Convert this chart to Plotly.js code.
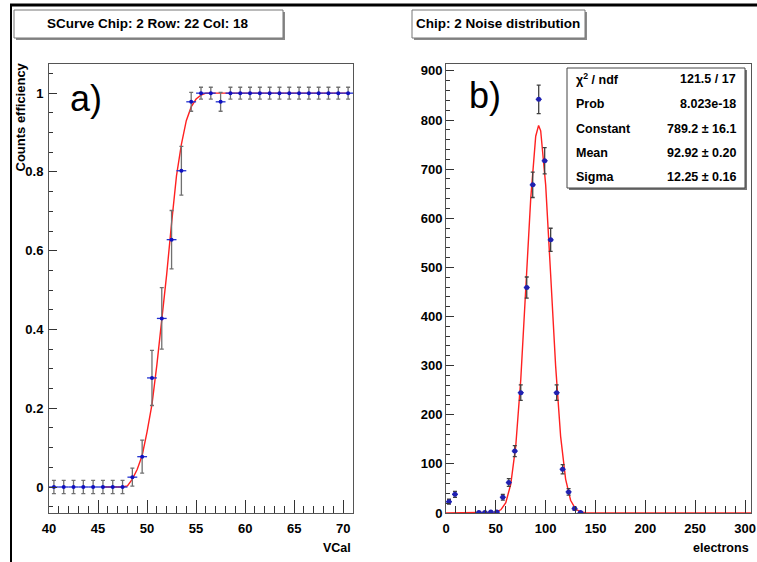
<!DOCTYPE html>
<html>
<head>
<meta charset="utf-8">
<script src="https://cdn.plot.ly/plotly-3.0.1.min.js"></script>
<style>html,body{margin:0;padding:0;background:#fff;}#chart{width:757px;height:562px;}</style>
</head>
<body>
<div id="chart"></div>
<script>
// ---- Panel a) SCurve data ----
var vcal = [40.5,41.5,42.5,43.5,44.5,45.5,46.5,47.5,48.5,49.5,50.5,51.5,52.5,53.5,54.5,55.5,56.5,57.5,58.5,59.5,60.5,61.5,62.5,63.5,64.5,65.5,66.5,67.5,68.5,69.5,70.5];
var efficiency = [0,0,0,0,0,0,0,0,0.025,0.077,0.277,0.428,0.628,0.803,0.978,1,1,0.978,1,1,1,1,1,1,1,1,1,1,1,1,1];
var effErr = [0.017,0.017,0.017,0.017,0.017,0.017,0.017,0.017,0.023,0.042,0.07,0.078,0.074,0.062,0.024,0.015,0.015,0.024,0.015,0.015,0.015,0.015,0.015,0.015,0.015,0.015,0.015,0.015,0.015,0.015,0.015];
var fitVcal = [45.5,47.5,48,48.5,49,49.5,50,50.5,51,51.5,52,52.5,53,53.5,54,54.5,55,55.5,56,57,70.5];
var fitEff  = [0,0,0.003,0.02,0.045,0.08,0.14,0.21,0.31,0.42,0.54,0.67,0.79,0.87,0.93,0.965,0.985,0.995,1,1,1];
var vcalTicks = [40,45,50,55,60,65,70];
var vcalTickText = ["40","45","50","55","60","65","70"];
var effTicks = [0,0.2,0.4,0.6,0.8,1];
var effTickText = ["0","0.2","0.4","0.6","0.8","1"];

// ---- Panel b) Noise distribution data ----
var electrons = [3,9,33,39,45,51,57,63,69,75,81,87,93,99,105,111,117,123,129,135];
var counts    = [23,38,1,1,2,2,32,62,126,245,459,668,842,717,556,245,89,43,9,1];
var countErr  = [5,6,1,1,1.4,1.4,5.7,7.9,11.2,15.7,21.4,25.8,29,26.8,23.6,15.7,9.4,6.6,3,1];
var fitElectrons = [0,45,50,55,60,65,70,75,80,85,90,92.9,95,100,105,110,115,120,125,130,135,140,150,306];
var fitCounts    = [0,0.3,1.7,6.5,21,59,137,271,452,640,767,789,778,668,485,299,156,69,26,8,2.2,0.6,0,0];
var elecTicks = [0,50,100,150,200,250,300];
var elecTickText = ["0","50","100","150","200","250","300"];
var countTicks = [0,100,200,300,400,500,600,700,800,900];
var countTickText = ["0","100","200","300","400","500","600","700","800","900"];

var statNames  = ["\u03c7<sup>2</sup> / ndf","Prob","Constant","Mean","Sigma"];
var statValues = ["121.5 / 17","8.023e-18","789.2 \u00b1 16.1","92.92 \u00b1 0.20","12.25 \u00b1 0.16"];

var W = 757, H = 562;
function px(x){ return x / W; }
function py(y){ return 1 - y / H; }
function bold(arr){ return arr.map(function(s){ return '<b>' + s + '</b>'; }); }

var FONT = "Liberation Sans, Arial, sans-serif";

var traces = [
  {x: fitVcal, y: fitEff, xaxis:'x', yaxis:'y', mode:'lines', line:{color:'#ff2020', width:1.4}, hoverinfo:'skip'},
  {x: vcal, y: efficiency, xaxis:'x', yaxis:'y', mode:'markers',
   marker:{color:'#1010c0', size:4},
   error_y:{type:'data', array: effErr, color:'#707070', thickness:1.3, width:2},
   error_x:{type:'constant', value:0.5, color:'#2030d0', thickness:1.3, width:0}},
  {x: fitElectrons, y: fitCounts, xaxis:'x2', yaxis:'y2', mode:'lines', line:{color:'#ff2020', width:1.4}, hoverinfo:'skip'},
  {x: electrons, y: counts, xaxis:'x2', yaxis:'y2', mode:'markers',
   marker:{color:'#2020b0', size:5},
   error_y:{type:'data', array: countErr, color:'#404040', thickness:1.3, width:2},
   error_x:{type:'constant', value:3, color:'#2030c0', thickness:1.3, width:0}}
];

var axisCommon = {
  showgrid:false, zeroline:false, showline:true, mirror:true, linecolor:'#555', linewidth:1,
  ticks:'inside', tickcolor:'#333', tickwidth:1, tickmode:'array',
  tickfont:{family:FONT, size:13, color:'#000'}
};
function ax(extra){ var o = {}; for (var k in axisCommon) o[k] = axisCommon[k]; for (var k2 in extra) o[k2] = extra[k2]; return o; }

function ann(x, y, text, xa, size, weight){
  return {xref:'paper', yref:'paper', x:px(x), y:py(y), xanchor:xa, yanchor:'middle', text:text, showarrow:false,
          font:{family:FONT, size:size, color:'#000', weight:(weight === undefined ? 700 : weight)}};
}

var annotations = [
  ann(148, 24, 'SCurve Chip: 2 Row: 22 Col: 18', 'center', 13.5),
  ann(498, 24, 'Chip: 2 Noise distribution', 'center', 13.5),
  ann(68, 98, 'a)', 'left', 36, 400),
  ann(467, 95, 'b)', 'left', 36, 400),
  ann(353, 548, 'VCal', 'right', 12.5),
  ann(751, 548, 'electrons', 'right', 12.5),
  {xref:'paper', yref:'paper', x:px(20), y:py(61), xanchor:'center', yanchor:'top', textangle:-90, text:'Counts efficiency', showarrow:false, font:{family:FONT, size:13, color:'#000', weight:700}}
];
var rowY = [79,104,129,153,177];
for (var i = 0; i < statNames.length; i++) {
  annotations.push(ann(574, rowY[i], statNames[i], 'left', 12.5));
  annotations.push(ann(738, rowY[i], statValues[i], 'right', 12.5));
}

var shapes = [
  // canvas border
  {type:'line', xref:'paper', yref:'paper', x0:px(10), x1:1, y0:py(5), y1:py(5), line:{color:'#000', width:3}},
  {type:'line', xref:'paper', yref:'paper', x0:px(11), x1:px(11), y0:py(4), y1:0, line:{color:'#000', width:2}},
  // title boxes with shadows
  {type:'rect', xref:'paper', yref:'paper', x0:px(16), x1:px(285), y0:py(40), y1:py(12), fillcolor:'#8a8a8a', line:{width:0}},
  {type:'rect', xref:'paper', yref:'paper', x0:px(14), x1:px(283), y0:py(38), y1:py(10), fillcolor:'#fff', line:{color:'#777', width:1}},
  {type:'rect', xref:'paper', yref:'paper', x0:px(414), x1:px(587), y0:py(40), y1:py(12), fillcolor:'#8a8a8a', line:{width:0}},
  {type:'rect', xref:'paper', yref:'paper', x0:px(412), x1:px(585), y0:py(38), y1:py(10), fillcolor:'#fff', line:{color:'#777', width:1}},
  // stats box
  {type:'rect', xref:'paper', yref:'paper', x0:px(569), x1:px(747), y0:py(190), y1:py(70), fillcolor:'#777', line:{width:0}},
  {type:'rect', xref:'paper', yref:'paper', x0:px(567), x1:px(745), y0:py(188), y1:py(68), fillcolor:'#fff', line:{color:'#444', width:1}}
];

var layout = {
  width: W, height: H,
  margin:{l:0, r:0, t:0, b:0},
  paper_bgcolor:'#fff', plot_bgcolor:'#fff',
  showlegend:false,
  xaxis: ax({domain:[px(49), px(353)], range:[40,71], tickvals:vcalTicks, ticktext:bold(vcalTickText), ticklen:13, ticklabelstandoff:3, anchor:'y',
             minor:{ticks:'inside', dtick:1, tick0:40, ticklen:7, tickcolor:'#333'}}),
  yaxis: ax({domain:[py(513), py(64)], range:[-0.066,1.074], tickvals:effTicks, ticktext:bold(effTickText), ticklen:8, ticklabelstandoff:2, anchor:'x',
             minor:{ticks:'inside', dtick:0.05, tick0:0, ticklen:4, tickcolor:'#333'}}),
  xaxis2: ax({domain:[px(446), px(751)], range:[0,306], tickvals:elecTicks, ticktext:bold(elecTickText), ticklen:13, ticklabelstandoff:3, anchor:'y2',
             minor:{ticks:'inside', dtick:10, tick0:0, ticklen:7, tickcolor:'#333'}}),
  yaxis2: ax({domain:[py(513), py(64)], range:[0,914], tickvals:countTicks, ticktext:bold(countTickText), ticklen:8, anchor:'x2',
             minor:{ticks:'inside', dtick:20, tick0:0, ticklen:4, tickcolor:'#333'}}),
  annotations: annotations,
  shapes: shapes
};

Plotly.newPlot('chart', traces, layout, {displayModeBar:false, staticPlot:true});
</script>
</body>
</html>
